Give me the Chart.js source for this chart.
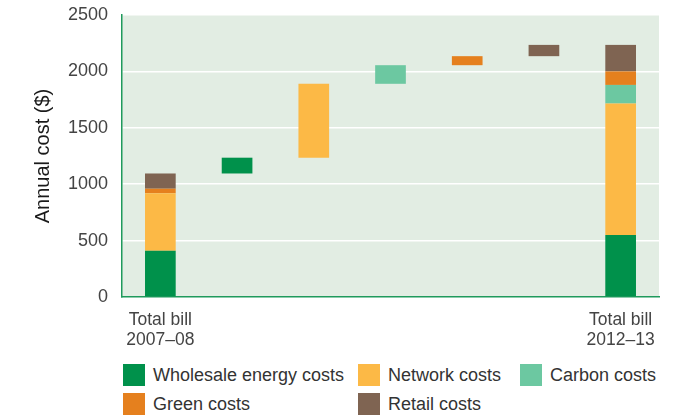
<!DOCTYPE html>
<html>
<head>
<meta charset="utf-8">
<script src="https://cdn.jsdelivr.net/npm/chart.js@4"></script>
<style>
  body { margin: 0; background: #fff; font-family: "Liberation Sans", Arial, sans-serif; }
  #wrap { position: relative; width: 690px; height: 417px; overflow: hidden; }
  #legend { position: absolute; left: 123px; top: 364px; display: grid;
            grid-template-columns: 235px 162px auto; row-gap: 7px; }
  .item { display: flex; align-items: center; font-size: 18px; line-height: 22px; color: #333; height: 22px; white-space: nowrap; }
  .box { width: 22px; height: 22px; margin-right: 8px; flex: none; }
</style>
</head>
<body>
<div id="wrap">
  <canvas id="chart" width="690" height="360"></canvas>
  <div id="legend"></div>
</div>
<script>
const categories = [['Total bill', '2007–08'], '', '', '', '', '', ['Total bill', '2012–13']];
const costTypes = ['Wholesale energy costs', 'Network costs', 'Carbon costs', 'Green costs', 'Retail costs'];
const bill2007 = [410, 510, 0, 40, 135];
const increases = [140, 655, 165, 80, 100];
const colours = ['#00914b', '#fcb946', '#6cc8a1', '#e5801e', '#7f6452'];

// build floating ranges for the waterfall
let startTotal = bill2007.reduce((a, b) => a + b, 0);
let base1 = 0, run = startTotal, base2 = 0;
const datasets = costTypes.map((name, i) => {
  const data = categories.map(() => null);
  if (bill2007[i] > 0) data[0] = [base1, base1 + bill2007[i]];
  base1 += bill2007[i];
  data[i + 1] = [run, run + increases[i]];
  run += increases[i];
  const fin = bill2007[i] + increases[i];
  data[6] = [base2, base2 + fin];
  base2 += fin;
  return {
    label: name,
    data: data,
    backgroundColor: colours[i],
    borderWidth: 0,
    barPercentage: 1,
    categoryPercentage: 0.4
  };
});

const legendDiv = document.getElementById('legend');
costTypes.forEach((name, i) => {
  const el = document.createElement('div');
  el.className = 'item';
  el.innerHTML = `<span class="box" style="background:${colours[i]}"></span>${name}`;
  legendDiv.appendChild(el);
});

const plotBg = {
  id: 'plotBg',
  beforeDraw(chart) {
    const { ctx, chartArea: a } = chart;
    ctx.save();
    ctx.fillStyle = '#e2ede3';
    ctx.fillRect(a.left, a.top, a.right - a.left, a.bottom - a.top);
    ctx.restore();
  }
};

Chart.defaults.font.family = '"Liberation Sans", Arial, sans-serif';

new Chart(document.getElementById('chart'), {
  type: 'bar',
  data: { labels: categories, datasets: datasets },
  plugins: [plotBg],
  options: {
    responsive: false,
    animation: false,
    layout: { padding: { left: 0, right: 31, top: 15, bottom: 0 } },
    plugins: { legend: { display: false }, tooltip: { enabled: false } },
    scales: {
      x: {
        stacked: true,
        grid: { display: false, drawTicks: false },
        border: { color: '#1f9a5c', width: 1.5 },
        ticks: { autoSkip: false, maxRotation: 0, padding: 14, color: '#444',
                 font: { size: 17.5, lineHeight: 1.1 } },
        afterFit(axis) { axis.height = 63; axis.paddingLeft = 0; axis.paddingRight = 0; }
      },
      y: {
        min: 0,
        max: 2500,
        ticks: { stepSize: 500, padding: 14, color: '#444', font: { size: 18 },
                 callback: v => String(v) },
        grid: { color: '#ffffff', lineWidth: 1.5, drawTicks: false },
        border: { color: '#1f9a5c', width: 1.5 },
        title: { display: true, text: 'Annual cost ($)', color: '#1a1a1a',
                 font: { size: 20 }, padding: { top: 31, bottom: 0 } },
        afterFit(axis) { axis.width = 122; axis.paddingTop = 0; axis.paddingBottom = 0; }
      }
    }
  }
});
</script>
</body>
</html>
